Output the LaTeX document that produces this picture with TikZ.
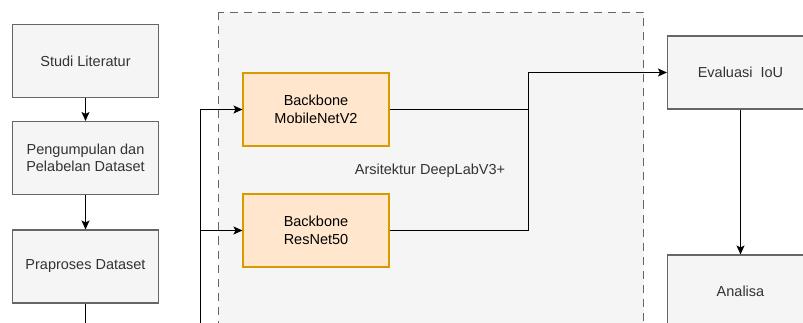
\documentclass[tikz,border=0pt]{standalone}
\usepackage{fontspec}
\setmainfont{Liberation Sans}
\usetikzlibrary{arrows.meta,positioning}
\definecolor{grayfill}{HTML}{F5F5F5}
\definecolor{graydraw}{HTML}{666666}
\definecolor{graytext}{HTML}{333333}
\definecolor{orangefill}{HTML}{FFE6CC}
\definecolor{orangedraw}{HTML}{D79B00}
\tikzset{
  graybox/.style={draw=graydraw, fill=grayfill, line width=1.1pt, minimum width=146pt, minimum height=73pt, inner sep=0pt, align=center, text=graytext, font=\fontsize{14.5}{17.5}\selectfont},
  orangebox/.style={draw=orangedraw, fill=orangefill, line width=1.1pt, minimum width=146pt, minimum height=73pt, inner sep=0pt, align=center, text=black, font=\fontsize{14.5}{17.5}\selectfont},
  container/.style={draw=graydraw, fill=grayfill, line width=1.1pt, dash pattern=on 8pt off 6pt},
  conn/.style={line width=1.2pt, -{Stealth[length=9pt,width=8pt,inset=2pt]}},
  plain/.style={line width=1.2pt}
}
\begin{document}
\begin{tikzpicture}[x=1pt,y=-1pt]
\useasboundingbox (0,0) rectangle (803,323);
\clip (0,0) rectangle (803,323);
\fill[white] (0,0) rectangle (803,323);
% container
\draw[container] (218.5,12.5) rectangle (643.5,360);
\node[text=graytext, font=\fontsize{14.5}{17.5}\selectfont] (lbl) at (430,170.5) {Arsitektur DeepLabV3+};
% left column
\node[graybox] (studi) at (85.5,61) {Studi Literatur};
\node[graybox] (peng) at (85.5,158) {Pengumpulan dan\\Pelabelan Dataset};
\node[graybox] (prap) at (85.5,266.5) {Praproses Dataset};
% backbones
\node[orangebox] (mob) at (316,109.5) {Backbone\\MobileNetV2};
\node[orangebox] (res) at (316,230.5) {Backbone\\ResNet50};
% right column
\node[graybox] (eval) at (740.5,72.5) {Evaluasi\ \ IoU};
\node[graybox] (anal) at (740.5,291.5) {Analisa};
% coordinates
\coordinate (prapdown) at (85.5,350);
\coordinate (feed) at (200.5,350);
\coordinate (join) at (528.5,72.5);
% connectors
\draw[conn] (studi) -- (peng);
\draw[conn] (peng) -- (prap);
\draw[plain] (prap.south) -- (prapdown);
\draw[conn] (feed) -- (feed |- mob.west) -- (mob.west);
\draw[conn] (feed |- res.west) -- (res.west);
\draw[conn] (mob.east) -- (mob.east -| join) -- (join) -- (eval.west);
\draw[plain] (res.east) -- (res.east -| join) -- (mob.east -| join);
\draw[conn] (eval) -- (anal);
\end{tikzpicture}
\end{document}
